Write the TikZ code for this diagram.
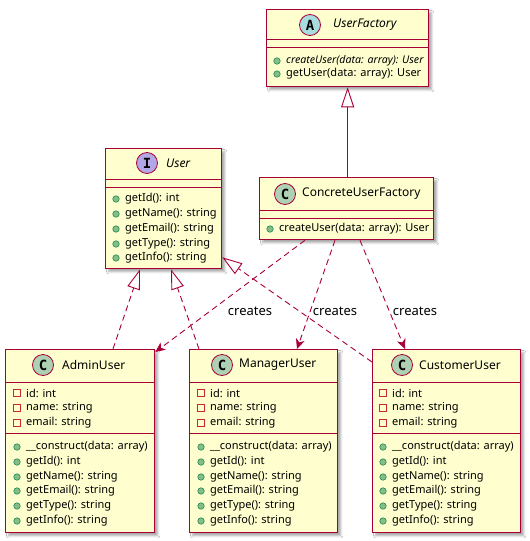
\documentclass[tikz,border=0pt]{standalone}
\usepackage{fontspec}
\setmainfont{Noto Sans}
\newfontfamily\kindfont{DejaVu Sans Mono}
\usetikzlibrary{arrows.meta,shadows.blur}
\definecolor{boxfill}{HTML}{FEFECE}
\definecolor{boxdraw}{HTML}{A80036}
\definecolor{cC}{HTML}{ADD1B2}
\definecolor{cA}{HTML}{A9DCDF}
\definecolor{cI}{HTML}{B4A7E5}
\definecolor{pubfill}{HTML}{84BE84}
\definecolor{pubdraw}{HTML}{038048}
\definecolor{privdraw}{HTML}{C82930}
\tikzset{
  classbox/.style={draw=boxdraw, fill=boxfill, line width=1.3pt, inner sep=0pt, anchor=north west,
    blur shadow={shadow xshift=3pt, shadow yshift=-3pt, shadow blur steps=6, shadow opacity=35}},
  sep/.style={draw=boxdraw, line width=1pt},
  kind/.style={circle, draw=boxdraw, line width=0.8pt, minimum size=21pt, inner sep=0pt,
    font=\kindfont\bfseries\fontsize{14}{14}\selectfont},
  title/.style={anchor=west, inner sep=0pt, font=\fontsize{12}{14}\selectfont},
  member/.style={anchor=west, inner sep=0pt, font=\fontsize{11}{13}\selectfont},
  pub/.style={circle, fill=pubfill, draw=pubdraw, line width=0.5pt, minimum size=6.5pt, inner sep=0pt},
  priv/.style={rectangle, draw=privdraw, line width=0.8pt, minimum size=6.5pt, inner sep=0pt},
  realize/.style={draw=boxdraw, line width=0.9pt, dash pattern=on 6pt off 4pt,
    -{Triangle[open, length=20pt, width=13pt, line width=0.9pt]}},
  inherit/.style={draw=boxdraw, line width=0.9pt,
    -{Triangle[open, length=20pt, width=13pt, line width=0.9pt]}},
  dep/.style={draw=boxdraw, line width=0.9pt, dash pattern=on 6pt off 4pt,
    -{Stealth[length=10pt, width=9pt, inset=3pt]}},
  lbl/.style={inner sep=0pt, font=\fontsize{13}{15}\selectfont}
}
\newcommand\pubm[4]{\node[pub] (#1d) at (#2,#3) {}; \node[member] (#1) at (#2+9,#3) {#4};}
\newcommand\privm[4]{\node[priv] (#1d) at (#2,#3) {}; \node[member] (#1) at (#2+9,#3) {#4};}
\begin{document}
\begin{tikzpicture}[x=1pt, y=-1pt]
\useasboundingbox (0,0) rectangle (530,541);
\fill[white] (0,0) rectangle (530,541);

% ---------- UserFactory ----------
\node[classbox, minimum width=162pt, minimum height=77pt] (uf) at (266,9) {};
\node[kind, fill=cA] (ufk) at (310,25) {A};
\node[title, font=\itshape\fontsize{12}{14}\selectfont] (uft) at (333,25) {UserFactory};
\draw[sep] (266,39) -- (428,39);
\draw[sep] (266,47) -- (428,47);
\pubm{ufm1}{277}{61}{\itshape\fontsize{10.6}{13}\selectfont createUser(data: array): User}
\pubm{ufm2}{277}{74}{getUser(data: array): User}

% ---------- User ----------
\node[classbox, minimum width=116pt, minimum height=120pt] (user) at (105,148) {};
\node[kind, fill=cI] (userk) at (147,163) {I};
\node[title, font=\itshape\fontsize{12}{14}\selectfont] (usert) at (166,163) {User};
\draw[sep] (105,179) -- (221,179);
\draw[sep] (105,187) -- (221,187);
\pubm{um1}{116}{199}{getId(): int}
\pubm{um2}{116}{214}{getName(): string}
\pubm{um3}{116}{229}{getEmail(): string}
\pubm{um4}{116}{244}{getType(): string}
\pubm{um5}{116}{258}{getInfo(): string}

% ---------- ConcreteUserFactory ----------
\node[classbox, minimum width=174pt, minimum height=62pt] (cuf) at (259,177) {};
\node[kind, fill=cC] (cufk) at (285,194) {C};
\node[title] (cuft) at (302,194) {ConcreteUserFactory};
\draw[sep] (259,210) -- (433,210);
\draw[sep] (259,218) -- (433,218);
\pubm{cufm1}{270}{229}{createUser(data: array): User}

% ---------- AdminUser ----------
\node[classbox, minimum width=149pt, minimum height=183pt] (admin) at (5,349) {};
\node[kind, fill=cC] (admink) at (43,365) {C};
\node[title] (admint) at (62,365) {AdminUser};
\draw[sep] (5,382) -- (154,382);
\privm{aa1}{17}{393}{id: int}
\privm{aa2}{17}{408}{name: string}
\privm{aa3}{17}{423}{email: string}
\draw[sep] (5,433) -- (154,433);
\pubm{am0}{17}{447}{\_\_construct(data: array)}
\pubm{am1}{17}{462}{getId(): int}
\pubm{am2}{17}{477}{getName(): string}
\pubm{am3}{17}{491}{getEmail(): string}
\pubm{am4}{17}{506}{getType(): string}
\pubm{am5}{17}{521}{getInfo(): string}

% ---------- ManagerUser ----------
\node[classbox, minimum width=148pt, minimum height=183pt] (manager) at (189,349) {};
\node[kind, fill=cC] (managerk) at (222,365) {C};
\node[title] (managert) at (239,365) {ManagerUser};
\draw[sep] (189,382) -- (337,382);
\privm{ma1}{201}{393}{id: int}
\privm{ma2}{201}{408}{name: string}
\privm{ma3}{201}{423}{email: string}
\draw[sep] (189,433) -- (337,433);
\pubm{mm0}{201}{447}{\_\_construct(data: array)}
\pubm{mm1}{201}{462}{getId(): int}
\pubm{mm2}{201}{477}{getName(): string}
\pubm{mm3}{201}{491}{getEmail(): string}
\pubm{mm4}{201}{506}{getType(): string}
\pubm{mm5}{201}{521}{getInfo(): string}

% ---------- CustomerUser ----------
\node[classbox, minimum width=148pt, minimum height=183pt] (customer) at (372,349) {};
\node[kind, fill=cC] (customerk) at (402,365) {C};
\node[title] (customert) at (419,365) {CustomerUser};
\draw[sep] (372,382) -- (520,382);
\privm{ca1}{383}{393}{id: int}
\privm{ca2}{383}{408}{name: string}
\privm{ca3}{383}{423}{email: string}
\draw[sep] (372,433) -- (520,433);
\pubm{cm0}{383}{447}{\_\_construct(data: array)}
\pubm{cm1}{383}{462}{getId(): int}
\pubm{cm2}{383}{477}{getName(): string}
\pubm{cm3}{383}{491}{getEmail(): string}
\pubm{cm4}{383}{506}{getType(): string}
\pubm{cm5}{383}{521}{getInfo(): string}

% ---------- connectors ----------
\draw[inherit] (cuf.north -| uf.south) -- (uf.south);
\draw[realize] ([xshift=108pt]admin.north west) -- ([xshift=35pt]user.south west);
\draw[realize] ([xshift=10pt]manager.north west) -- ([xshift=66pt]user.south west);
\draw[realize] ([yshift=-13pt]customer.north west) -- ([yshift=12pt]user.south east);
\draw[dep] ([xshift=46pt]cuf.south west) -- ([yshift=-3pt]admin.north east);
\draw[dep] ([xshift=76pt]cuf.south west) -- ([xshift=108pt]manager.north west);
\draw[dep] ([xshift=101pt]cuf.south west) -- ([xshift=33pt]customer.north west);
\node[lbl] (l1) at (250,311) {creates};
\node[lbl] (l2) at (335,311) {creates};
\node[lbl] (l3) at (415,311) {creates};
\end{tikzpicture}
\end{document}
